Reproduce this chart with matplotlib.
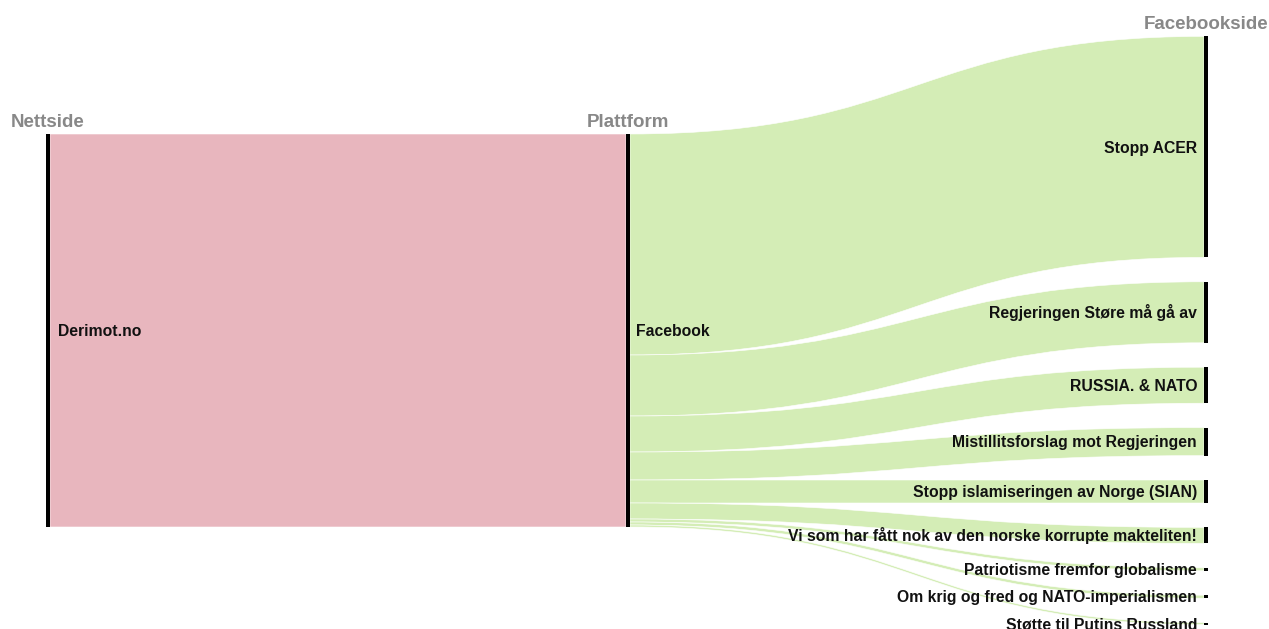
import matplotlib
matplotlib.use("Agg")
import matplotlib.pyplot as plt
from matplotlib.path import Path
from matplotlib.patches import PathPatch, Rectangle

# ---- data ----
column_titles = ["Nettside", "Plattform", "Facebookside"]
source_nodes = ["Derimot.no"]
platform_nodes = ["Facebook"]
page_nodes = [
    "Stopp ACER",
    "Regjeringen Støre må gå av",
    "RUSSIA. & NATO",
    "Mistillitsforslag mot Regjeringen",
    "Stopp islamiseringen av Norge (SIAN)",
    "Vi som har fått nok av den norske korrupte makteliten!",
    "Patriotisme fremfor globalisme",
    "Om krig og fred og NATO-imperialismen",
    "Støtte til Putins Russland",
]
page_values = [221, 61, 36, 28, 23, 16, 3, 3, 2]

# ---- style / layout ----
W, H = 1269, 629
PINK = "#e8b6be"
GREEN = "#d4edb6"
col_x = [46, 626, 1204]
node_w = 4
gap = 24.4
center_y = 330.5
scale = 1.0  # px per unit
LABEL_FS = 11.3
TITLE_FS = 13.5
cap_half = 0.36 * LABEL_FS * 100 / 72  # half cap height in px

fig = plt.figure(figsize=(W / 100, H / 100), dpi=100)
ax = fig.add_axes([0, 0, 1, 1])
ax.set_xlim(0, W)
ax.set_ylim(H, 0)
ax.axis("off")

total = sum(page_values)
h_total = total * scale
top_left = center_y - h_total / 2

# right column layout
right_h = [v * scale for v in page_values]
col_h = sum(right_h) + gap * (len(right_h) - 1)
y = center_y - col_h / 2
right_pos = []
for h in right_h:
    right_pos.append((y, y + h))
    y += h + gap


def band(x0, y0t, y0b, x1, y1t, y1b, color):
    xm = (x0 + x1) / 2
    verts = [(x0, y0t), (xm, y0t), (xm, y1t), (x1, y1t),
             (x1, y1b), (xm, y1b), (xm, y0b), (x0, y0b), (x0, y0t)]
    codes = [Path.MOVETO, Path.CURVE4, Path.CURVE4, Path.CURVE4,
             Path.LINETO, Path.CURVE4, Path.CURVE4, Path.CURVE4, Path.CLOSEPOLY]
    ax.add_patch(PathPatch(Path(verts, codes), facecolor=color,
                           edgecolor="white", linewidth=0.4, zorder=1))


# source -> platform flow
band(col_x[0] + node_w, top_left, top_left + h_total,
     col_x[1], top_left, top_left + h_total, PINK)

# platform -> pages flows
sy = top_left
for (t, b), h in zip(right_pos, right_h):
    band(col_x[1] + node_w, sy, sy + h, col_x[2], t, b, GREEN)
    sy += h

# node bars
for cx in col_x[:2]:
    ax.add_patch(Rectangle((cx, top_left), node_w, h_total,
                           facecolor="black", edgecolor="none", zorder=3))
for (t, b) in right_pos:
    ax.add_patch(Rectangle((col_x[2], t), node_w, max(b - t, 1.5),
                           facecolor="black", edgecolor="none", zorder=3))

fam = ["Liberation Sans", "DejaVu Sans"]
# node labels
ax.text(col_x[0] + node_w + 8, center_y + cap_half, source_nodes[0], ha="left",
        va="baseline", fontsize=LABEL_FS, fontweight="bold", color="#111111",
        family=fam, zorder=4)
ax.text(col_x[1] + node_w + 6, center_y + cap_half, platform_nodes[0], ha="left",
        va="baseline", fontsize=LABEL_FS, fontweight="bold", color="#111111",
        family=fam, zorder=4)
for name, (t, b) in zip(page_nodes, right_pos):
    ax.text(col_x[2] - 7, (t + b) / 2 + cap_half, name, ha="right", va="baseline",
            fontsize=LABEL_FS, fontweight="bold", color="#111111", family=fam,
            zorder=4)

# column titles
ax.text(col_x[0] + 2, top_left - 7, column_titles[0], ha="center", va="baseline",
        fontsize=TITLE_FS, fontweight="bold", color="#888888", family=fam)
ax.text(col_x[1] + 2, top_left - 7, column_titles[1], ha="center", va="baseline",
        fontsize=TITLE_FS, fontweight="bold", color="#888888", family=fam)
ax.text(W - 1, right_pos[0][0] - 7, column_titles[2], ha="right", va="baseline",
        fontsize=TITLE_FS, fontweight="bold", color="#888888", family=fam)

fig.savefig("out.png", dpi=100)
